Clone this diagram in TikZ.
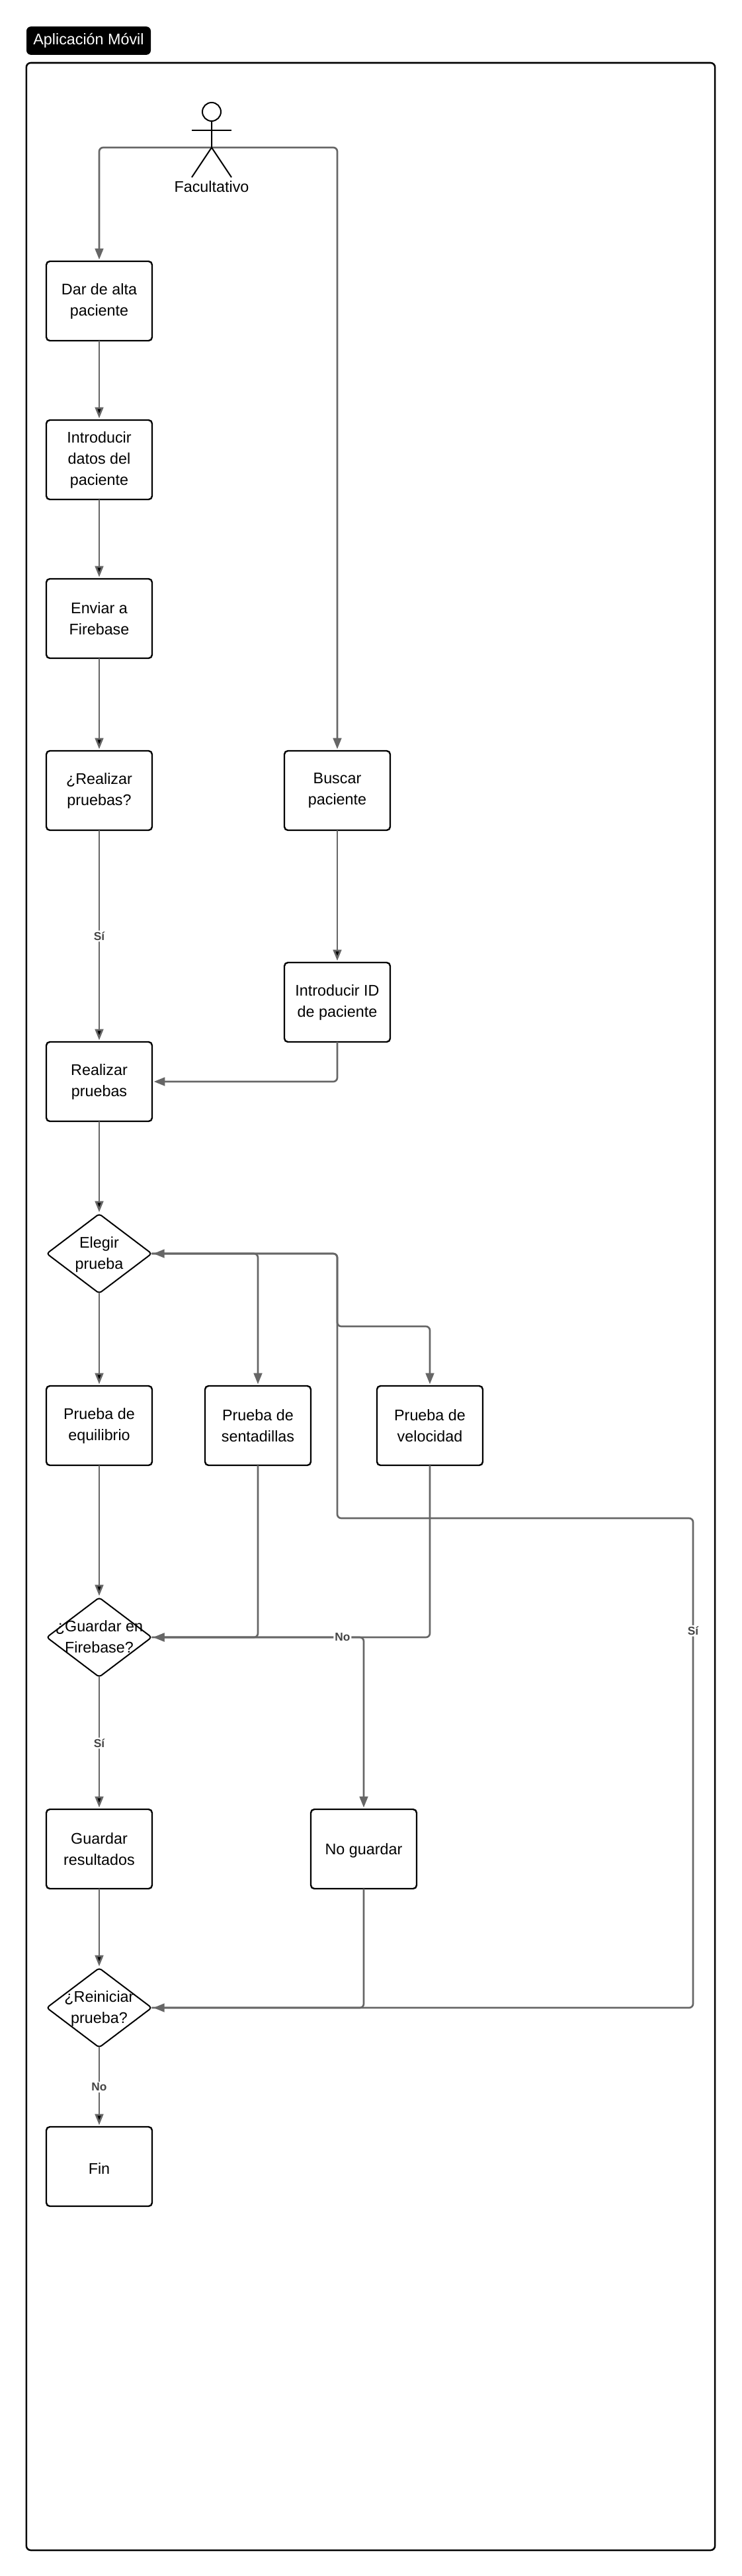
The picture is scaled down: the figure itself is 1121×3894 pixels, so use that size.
\documentclass[tikz,border=0pt]{standalone}
\usepackage{fontspec}
\setmainfont{Liberation Sans}
\usepackage{tikz}
\usetikzlibrary{arrows.meta,shapes.geometric}
\definecolor{flowgray}{HTML}{666666}
\definecolor{labelgray}{HTML}{444444}
\newcommand{\rombotext}[2]{\makebox[0pt]{\smash{\raisebox{-5pt}{\begin{tabular}{@{}c@{}}#1\\#2\end{tabular}}}}}

\begin{document}
\begin{tikzpicture}[x=0.75pt,y=-0.75pt,>={Triangle[length=12.5pt,width=9.5pt]},node distance=180pt,
  font=\fontsize{17.5}{24}\selectfont,
  main node/.style={rectangle,draw,rounded corners=4pt,line width=1.8pt,align=center,minimum width=120pt,minimum height=90pt,inner sep=0pt,outer sep=0pt,execute at begin node={\rule{0pt}{17pt}}},
  choice node/.style={diamond,draw,rounded corners=3pt,line width=1.5pt,minimum width=119pt,minimum height=90pt,inner sep=0pt,outer sep=0pt},
  flow/.style={->,draw=flowgray,line width=2pt,shorten >=2pt,rounded corners=4.5pt},
  limb/.style={line width=1.5pt},
  edge label/.style={font=\fontsize{13}{15}\selectfont\bfseries,text=labelgray,fill=white,inner sep=1.5pt}]

  \useasboundingbox (0,0) rectangle (1121,3894);

  \node[draw,rounded corners=5pt,line width=1.9pt,minimum width=781pt,minimum height=2820pt,inner sep=0pt] (frame) at (560.5,1975) {};
  \node[fill=black,text=white,rounded corners=5pt,minimum width=141pt,minimum height=32pt,inner sep=0pt] (title) at (134,61.5) {Aplicación Móvil};

  \node[circle,draw,line width=1.5pt,minimum size=21pt,inner sep=0pt] (head) at (320,169) {};
  \coordinate (hip) at (320,223);
  \coordinate (armL) at (290,197);
  \coordinate (armR) at (350,197);
  \coordinate (legL) at (290,268);
  \coordinate (legR) at (350,268);
  \node (actor) at (320,282) {Facultativo};

  \node[main node] (alta) at (150,455) {Dar de alta\\paciente};
  \node[main node] (datos) [below of=alta] {Introducir\\datos del\\paciente};
  \node[main node] (enviar) [below of=datos] {Enviar a\\Firebase};
  \node[main node] (pregunta) [below of=enviar,node distance=195pt] {¿Realizar\\pruebas?};
  \node[main node] (buscar) [right of=pregunta,node distance=270pt] {Buscar\\paciente};
  \node[main node] (id) [below of=buscar,node distance=240pt] {Introducir ID\\de paciente};
  \node[main node] (realizar) [below of=pregunta,node distance=330pt] {Realizar\\pruebas};
  \node[choice node] (elegir) [below of=realizar,node distance=195pt] {\rombotext{Elegir}{prueba}};
  \node[main node] (equilibrio) [below of=elegir,node distance=195pt] {Prueba de\\equilibrio};
  \node[main node] (sentadillas) [right of=equilibrio] {Prueba de\\sentadillas};
  \node[main node] (velocidad) [right of=sentadillas,node distance=195pt] {Prueba de\\velocidad};
  \node[choice node] (guardar) [below of=equilibrio,node distance=240pt] {\rombotext{¿Guardar en}{Firebase?}};
  \node[main node] (resultados) [below of=guardar,node distance=240pt] {Guardar\\resultados};
  \node[main node] (noguardar) [right of=resultados,node distance=300pt] {No guardar};
  \node[choice node] (reiniciar) [below of=resultados] {\rombotext{¿Reiniciar}{prueba?}};
  \node[main node] (fin) [below of=reiniciar] {Fin};

  \coordinate (loop1) at (1048,3035);
  \coordinate (loop2) at (1048,2295);
  \coordinate (loop3) at (510,2295);
  \coordinate (loop4) at (510,1895);
  \coordinate (fork1) at (510,2005);
  \coordinate (fork2) at (650,2005);
  \coordinate (fork3) at (550,2475);

  \draw[flow] (hip) -| (alta.north);
  \draw[flow] (hip) -| (buscar.north);
  \draw[limb] (head.south) -- (hip) -- (legL);
  \draw[limb] (hip) -- (legR);
  \draw[limb] (armL) -- (armR);

  \path[flow]
    (alta) edge (datos)
    (datos) edge (enviar)
    (enviar) edge (pregunta)
    (pregunta) edge node[edge label] {Sí} (realizar)
    (buscar) edge (id)
    (realizar) edge (elegir)
    (elegir) edge (equilibrio)
    (equilibrio) edge (guardar)
    (guardar) edge node[edge label] {Sí} (resultados)
    (resultados) edge (reiniciar)
    (reiniciar) edge node[edge label] {No} (fin);

  \draw[flow] (id.south) |- (realizar.east);
  \draw[flow] (elegir.east) -| (sentadillas.north);
  \draw[flow] (elegir.east) -- (loop4) -- (fork1) -- (fork2) -- (velocidad.north);
  \draw[flow] (reiniciar.east) -- (loop1) -- node[edge label,pos=.77] {Sí} (loop2) -- (loop3) -- (loop4) -- (elegir.east);
  \draw[flow] (sentadillas.south) |- (guardar.east);
  \draw[flow] (velocidad.south) |- (guardar.east);
  \draw[flow] (guardar.east) -- node[edge label,pos=.9] {No} (fork3) -- (noguardar.north);
  \draw[flow] (noguardar.south) |- (reiniciar.east);
\end{tikzpicture}
\end{document}
